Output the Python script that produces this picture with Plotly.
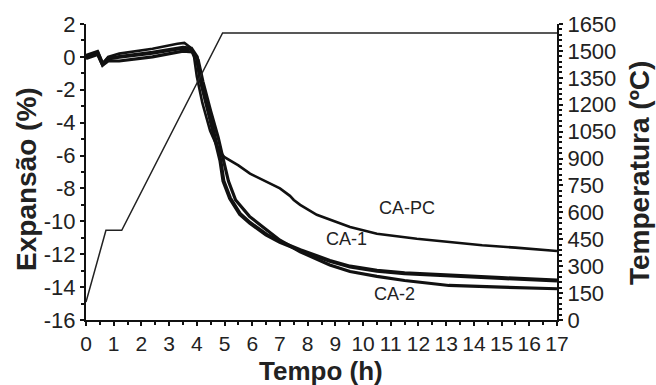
import plotly.graph_objects as go

# ---- data ----
temp_t = [0, 0.72, 1.29, 4.93, 17]
temp_c = [100, 500, 500, 1600, 1600]

capc_t = [0, 0.42, 0.6, 0.8, 1.2, 2.4, 3.3, 3.55, 3.75, 3.9, 4.0, 4.2, 4.48, 4.65, 4.78, 5.0,
          5.5, 5.92, 6.64, 7.0, 7.36, 7.5, 7.73, 8.33, 9.53, 10.5, 11.94, 13.0, 14.3, 15.5, 17.0]
capc_v = [0.1, 0.35, -0.4, 0.0, 0.2, 0.5, 0.8, 0.85, 0.6, 0.0, -1.2, -2.8, -4.5, -5.2, -5.64,
          -6.1, -6.6, -7.1, -7.7, -8.0, -8.45, -8.7, -9.0, -9.6, -10.35, -10.75, -11.06, -11.25,
          -11.45, -11.6, -11.8]

ca1_t = [0, 0.42, 0.6, 0.8, 1.2, 2.4, 3.5, 3.8, 4.0, 4.12, 4.4, 4.66, 4.85, 4.96, 5.2, 5.56,
         5.92, 6.5, 7.0, 7.73, 8.8, 9.53, 10.5, 11.5, 13.1, 15.0, 17.0]
ca1_v = [0.0, 0.25, -0.45, -0.1, 0.0, 0.25, 0.55, 0.5, 0.0, -1.3, -3.2, -4.9, -6.3, -7.55,
         -8.6, -9.56, -10.1, -10.8, -11.25, -11.75, -12.4, -12.75, -13.0, -13.15, -13.3, -13.45,
         -13.6]

ca2_t = [0, 0.42, 0.6, 0.8, 1.2, 2.4, 3.5, 3.85, 4.05, 4.22, 4.5, 4.77, 4.95, 5.14, 5.4, 5.9,
         6.5, 7.0, 7.73, 8.8, 9.53, 10.5, 11.5, 13.1, 15.0, 17.0]
ca2_v = [-0.1, 0.15, -0.5, -0.25, -0.25, 0.0, 0.35, 0.3, -0.2, -1.5, -3.3, -4.9, -6.2, -7.55,
         -8.7, -9.7, -10.5, -11.15, -11.85, -12.65, -13.05, -13.35, -13.6, -13.9, -14.0, -14.1]

x_ticks = list(range(0, 18))
y_ticks = list(range(-16, 3, 2))
y_ticktext = [str(v).replace("\u2212", "-") for v in y_ticks]
t_ticks = list(range(0, 1651, 150))

labels = ["CA-PC", "CA-1", "CA-2"]
label_x = [11.58, 9.41, 11.15]
label_y = [-9.16, -11.07, -14.39]

# ---- figure ----
FONT = "Liberation Sans, Arial, sans-serif"
fig = go.Figure()
fig.add_trace(go.Scatter(x=temp_t, y=temp_c, yaxis="y2", mode="lines",
                         line=dict(color="#222", width=1.5), showlegend=False))
for t, v, w in [(capc_t, capc_v, 2.6), (ca1_t, ca1_v, 4), (ca2_t, ca2_v, 3.2)]:
    fig.add_trace(go.Scatter(x=t, y=v, mode="lines", line=dict(color="#111", width=w),
                             showlegend=False))

for txt, lx, ly in zip(labels, label_x, label_y):
    fig.add_annotation(x=lx, y=ly, text=txt, showarrow=False,
                       font=dict(family=FONT, size=18, color="#222"))

L, R, T, B = 86, 557, 22, 320
W, H = 656, 385
def px(x):
    return (x - L) / (R - L)
def py(y):
    return (B - y) / (B - T)

title_kw = dict(xref="paper", yref="paper", showarrow=False, xanchor="center", yanchor="middle")
fig.add_annotation(x=px(27), y=py(178), text="<b>Expansão (%)</b>", textangle=-90,
                   font=dict(family=FONT, size=28, color="#222"), **title_kw)
fig.add_annotation(x=px(640), y=py(172), text="<b>Temperatura (ºC)</b>", textangle=-90,
                   font=dict(family=FONT, size=28, color="#222"), **title_kw)
fig.add_annotation(x=px(321), y=py(371), text="<b>Tempo (h)</b>",
                   font=dict(family=FONT, size=26, color="#222"), **title_kw)

axis_common = dict(showline=True, linecolor="#111", linewidth=2, showgrid=False, zeroline=False,
                   ticks="outside", ticklen=4, tickwidth=1.5, tickcolor="#111")

fig.update_layout(
    width=W, height=H, margin=dict(l=L, r=W - R, t=T, b=H - B, pad=0),
    plot_bgcolor="white", paper_bgcolor="white",
    xaxis=dict(range=[0, 17], tickvals=x_ticks, ticktext=[str(v) for v in x_ticks],
               tickfont=dict(family=FONT, size=21, color="#222"),
               minor=dict(dtick=0.5, ticks="outside", ticklen=3, tickcolor="#111"),
               **axis_common),
    yaxis=dict(range=[-16, 2], tickvals=y_ticks, ticktext=y_ticktext,
               tickfont=dict(family=FONT, size=22, color="#222"),
               minor=dict(dtick=1, ticks="outside", ticklen=3, tickcolor="#111"),
               **axis_common),
    yaxis2=dict(range=[0, 1650], overlaying="y", side="right", tickvals=t_ticks,
                ticktext=[str(v) for v in t_ticks],
                tickfont=dict(family=FONT, size=22, color="#222"),
                minor=dict(dtick=30, ticks="outside", ticklen=3, tickcolor="#111"),
                **axis_common),
)
fig.write_html("out.html")
